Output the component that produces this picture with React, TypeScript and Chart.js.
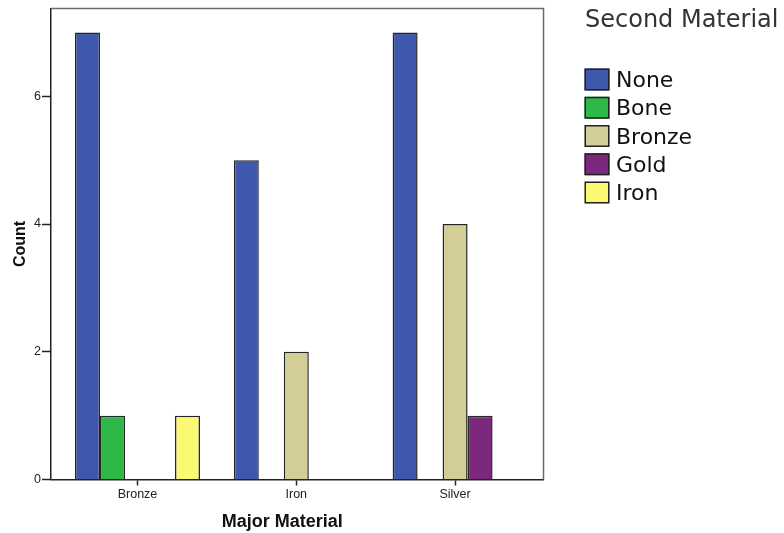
import React, { useEffect, useRef } from 'react';
import { Chart, registerables } from 'chart.js';

Chart.register(...registerables);

// ---- data ----
const categories = ['Bronze', 'Iron', 'Silver'];
const seriesNames = ['None', 'Bone', 'Bronze', 'Gold', 'Iron'];
const noneValues = [7, 5, 7];
const boneValues = [1, null, null];
const bronzeValues = [null, 2, 4];
const goldValues = [null, null, 1];
const ironValues = [1, null, null];
const yTickValues = [0, 2, 4, 6];
const xAxisTitle = 'Major Material';
const yAxisTitle = 'Count';
const legendTitle = 'Second Material';

const seriesValues = [noneValues, boneValues, bronzeValues, goldValues, ironValues];
const seriesColors = ['#3E58AC', '#2EB848', '#D3CE97', '#7C287D', '#FBF873'];

const framePlugin = {
  id: 'frame',
  afterDraw(chart: any) {
    const { ctx, chartArea } = chart;
    ctx.save();
    ctx.strokeStyle = '#6a6a6a';
    ctx.lineWidth = 1.5;
    ctx.beginPath();
    ctx.moveTo(chartArea.left, chartArea.top);
    ctx.lineTo(chartArea.right, chartArea.top);
    ctx.lineTo(chartArea.right, chartArea.bottom);
    ctx.stroke();
    ctx.restore();
  },
};

const xTitlePlugin = {
  id: 'xTitle',
  afterDraw(chart: any) {
    const { ctx, chartArea } = chart;
    ctx.save();
    ctx.fillStyle = '#111';
    ctx.font = 'bold 18px "Liberation Sans", Arial, sans-serif';
    ctx.textAlign = 'center';
    ctx.textBaseline = 'alphabetic';
    ctx.fillText(xAxisTitle, (chartArea.left + chartArea.right) / 2 - 15, chartArea.bottom + 47.5);
    ctx.restore();
  },
};

const sideLegendPlugin = {
  id: 'sideLegend',
  afterDraw(chart: any) {
    const { ctx, chartArea } = chart;
    const x0 = chartArea.right + 41;
    const y0 = chartArea.top;
    ctx.save();
    ctx.textAlign = 'left';
    ctx.textBaseline = 'alphabetic';
    ctx.fillStyle = '#333';
    ctx.font = '24px "DejaVu Sans", sans-serif';
    ctx.fillText(legendTitle, x0 + 0.5, y0 + 18);
    chart.data.datasets.forEach((ds: any, i: number) => {
      const top = y0 + 60 + i * 28.25;
      ctx.fillStyle = ds.backgroundColor;
      ctx.fillRect(x0, top, 25, 22);
      ctx.strokeStyle = '#222';
      ctx.lineWidth = 1.5;
      ctx.strokeRect(x0 + 0.75, top + 0.75, 23.5, 20.5);
      ctx.fillStyle = '#111';
      ctx.font = '22px "DejaVu Sans", sans-serif';
      ctx.fillText(ds.label, x0 + 31.5, top + 18.5);
    });
    ctx.restore();
  },
};

export default function App() {
  const canvasRef = useRef<HTMLCanvasElement | null>(null);

  useEffect(() => {
    if (!canvasRef.current) return;
    const datasets = seriesNames.map((name, si) => ({
      label: name,
      data: seriesValues[si].map((v, i) => ({ x: i, y: v })),
      backgroundColor: seriesColors[si],
      borderColor: '#262626',
      borderWidth: 1.5,
      categoryPercentage: 0.787,
      barPercentage: 1,
    }));
    const tickFont = { family: '"Liberation Sans", Arial, sans-serif', size: 12.5 };
    const chart = new Chart(canvasRef.current, {
      type: 'bar',
      data: { datasets },
      options: {
        animation: false,
        responsive: false,
        maintainAspectRatio: false,
        layout: { padding: { top: 7.5, right: 240.5, bottom: 0, left: 0 } },
        plugins: {
          legend: { display: false },
          tooltip: { enabled: false },
          title: { display: false },
        },
        scales: {
          x: {
            type: 'linear',
            min: -0.5447,
            max: 2.5567,
            offset: false,
            afterFit: (s: any) => { s.height = 53.5; },
            afterBuildTicks: (s: any) => { s.ticks = categories.map((_, i) => ({ value: i })); },
            ticks: {
              callback: (v: any) => categories[v] ?? '',
              font: tickFont,
              color: '#222',
              padding: 1.5,
              maxRotation: 0,
              autoSkip: false,
            },
            grid: {
              display: true,
              offset: false,
              drawOnChartArea: false,
              drawTicks: true,
              tickLength: 6,
              tickColor: '#222',
              tickWidth: 1.5,
            },
            border: { display: true, color: '#222', width: 1.5 },
          },
          y: {
            type: 'linear',
            min: 0,
            max: 7.375,
            afterFit: (s: any) => { s.width = 51; },
            afterBuildTicks: (s: any) => { s.ticks = yTickValues.map((v) => ({ value: v })); },
            ticks: {
              font: tickFont,
              color: '#222',
              padding: 1,
            },
            grid: {
              display: true,
              drawOnChartArea: false,
              drawTicks: true,
              tickLength: 9,
              tickColor: '#222',
              tickWidth: 1.5,
            },
            border: { display: true, color: '#222', width: 1.5 },
            title: {
              display: true,
              text: yAxisTitle,
              color: '#111',
              font: { family: '"Liberation Sans", Arial, sans-serif', size: 16, weight: 'bold' },
              padding: { top: 11.4, bottom: 0 },
            },
          },
        },
      },
      plugins: [framePlugin, xTitlePlugin, sideLegendPlugin],
    } as any);
    return () => chart.destroy();
  }, []);

  return (
    <div style={{ position: 'fixed', left: 0, top: 0, width: 784, height: 533, background: '#fff' }}>
      <canvas ref={canvasRef} width={784} height={533} style={{ display: 'block' }} />
    </div>
  );
}
